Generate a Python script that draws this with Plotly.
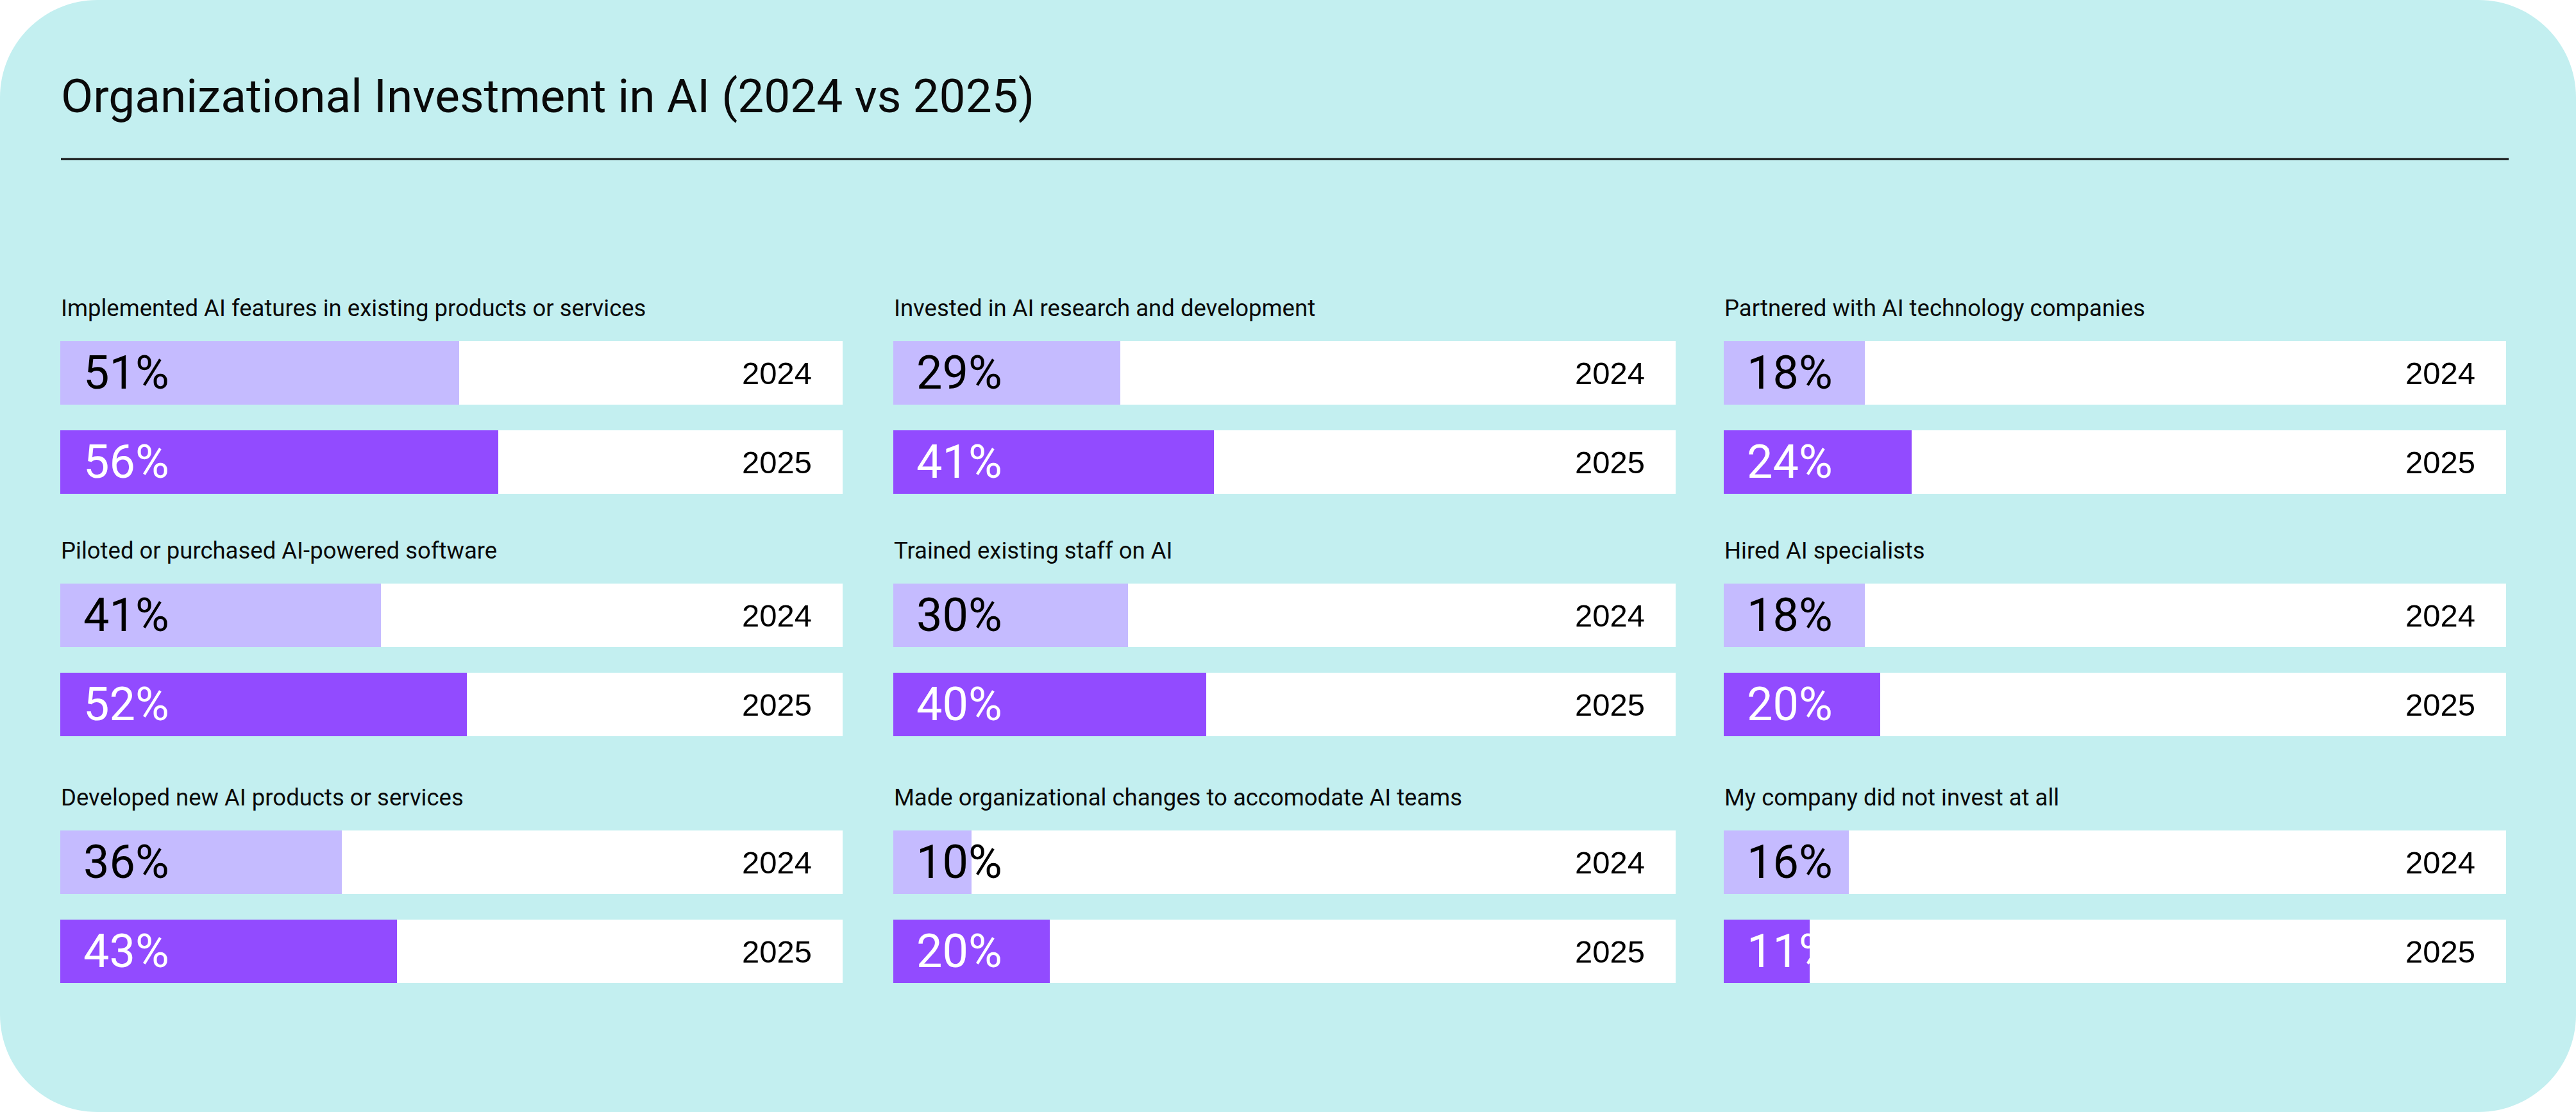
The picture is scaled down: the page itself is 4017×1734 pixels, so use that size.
import plotly.graph_objects as go

# ---------------- data ----------------
title_text = "Organizational Investment in AI (2024 vs 2025)"
years = ["2024", "2025"]
categories = [
    "Implemented AI features in existing products or services",
    "Piloted or purchased AI-powered software",
    "Developed new AI products or services",
    "Invested in AI research and development",
    "Trained existing staff on AI",
    "Made organizational changes to accomodate AI teams",
    "Partnered with AI technology companies",
    "Hired AI specialists",
    "My company did not invest at all",
]
values_2024 = [51, 41, 36, 29, 30, 10, 18, 18, 16]
values_2025 = [56, 52, 43, 41, 40, 20, 24, 20, 11]
full_scale = 100

# ---------------- styling / layout ----------------
W, H = 4017, 1734
PANEL = "#C3EFF0"
C2024 = "#C5BBFF"
C2025 = "#924BFF"
TITLE_FONT = "Roboto"
NUM_FONT = "Roboto"
YEAR_FONT = "Liberation Sans, Arial, Helvetica"

col_left = [94, 1393, 2688]
col_width = 1220
row_top = [532, 910, 1295]
bar_h = 99
bar_pitch = 139  # center-to-center


def px(x):
    return x / W


def py(y):
    return 1 - y / H


fig = go.Figure()
annotations = []
shapes = []

# rounded panel
r = 152
k = 0.5523 * r
path = (
    f"M {px(r)},{py(0)} L {px(W - r)},{py(0)} "
    f"C {px(W - r + k)},{py(0)} {px(W)},{py(r - k)} {px(W)},{py(r)} "
    f"L {px(W)},{py(H - r)} "
    f"C {px(W)},{py(H - r + k)} {px(W - r + k)},{py(H)} {px(W - r)},{py(H)} "
    f"L {px(r)},{py(H)} "
    f"C {px(r - k)},{py(H)} {px(0)},{py(H - r + k)} {px(0)},{py(H - r)} "
    f"L {px(0)},{py(r)} "
    f"C {px(0)},{py(r - k)} {px(r - k)},{py(0)} {px(r)},{py(0)} Z"
)
shapes.append(dict(type="path", xref="paper", yref="paper", path=path,
                   fillcolor=PANEL, line=dict(width=0), layer="below"))

# title + rule
annotations.append(dict(text=title_text, xref="paper", yref="paper",
                        x=px(93), y=py(150), xanchor="left", yanchor="middle",
                        showarrow=False,
                        font=dict(family=TITLE_FONT, size=73, color="#0a0a0a")))
shapes.append(dict(type="line", xref="paper", yref="paper",
                   x0=px(95), x1=px(3912), y0=py(248), y1=py(248),
                   line=dict(color="#111111", width=3)))

for i, cat in enumerate(categories):
    col, row = i // 3, i % 3
    n = "" if i == 0 else str(i + 1)
    xa, ya = "x" + n, "y" + n
    left = col_left[col]
    top = row_top[row]
    span = bar_h + bar_pitch
    fig.update_layout(**{
        f"xaxis{n}": dict(domain=[px(left), px(left + col_width)], range=[0, full_scale],
                          visible=False, fixedrange=True, anchor=ya),
        f"yaxis{n}": dict(domain=[py(top + span), py(top)],
                          range=[-bar_h / bar_pitch / 2, 1 + bar_h / bar_pitch / 2],
                          visible=False, fixedrange=True, anchor=xa),
    })
    w = bar_h / bar_pitch
    # white track
    fig.add_trace(go.Bar(x=[full_scale, full_scale], y=[1, 0], orientation="h",
                         width=w, marker=dict(color="white", line=dict(width=0)),
                         xaxis=xa, yaxis=ya, showlegend=False, hoverinfo="skip"))
    # values
    fig.add_trace(go.Bar(x=[values_2024[i], values_2025[i]], y=[1, 0], orientation="h",
                         width=w, marker=dict(color=[C2024, C2025], line=dict(width=0)),
                         xaxis=xa, yaxis=ya, showlegend=False,
                         customdata=years, hovertemplate="%{customdata}: %{x}%<extra></extra>"))
    # category label
    annotations.append(dict(text=cat, xref="paper", yref="paper",
                            x=px(left - 1), y=py(top - 52), xanchor="left", yanchor="middle",
                            showarrow=False,
                            font=dict(family=TITLE_FONT, size=36.5, color="#0a0a0a")))
    for yv, val, yr, tc in ((1, values_2024[i], years[0], "#000000"),
                            (0, values_2025[i], years[1], "#ffffff")):
        annotations.append(dict(text=f"{val}%", xref=xa, yref=ya, x=0, y=yv,
                                xshift=34, xanchor="left", yanchor="middle",
                                showarrow=False,
                                font=dict(family=NUM_FONT, size=72, color=tc)))
        annotations.append(dict(text=yr, xref=xa, yref=ya, x=full_scale, y=yv,
                                xshift=-46, xanchor="right", yanchor="middle",
                                showarrow=False,
                                font=dict(family=YEAR_FONT, size=49, color="#000000")))

fig.update_layout(
    width=W, height=H,
    margin=dict(l=0, r=0, t=0, b=0),
    paper_bgcolor="white", plot_bgcolor="rgba(0,0,0,0)",
    barmode="overlay", bargap=0,
    annotations=annotations, shapes=shapes,
    showlegend=False,
)

fig.write_html("out.html",
               config={"displayModeBar": False},
               post_script="document.body.style.margin='0';document.body.style.overflow='hidden';")
